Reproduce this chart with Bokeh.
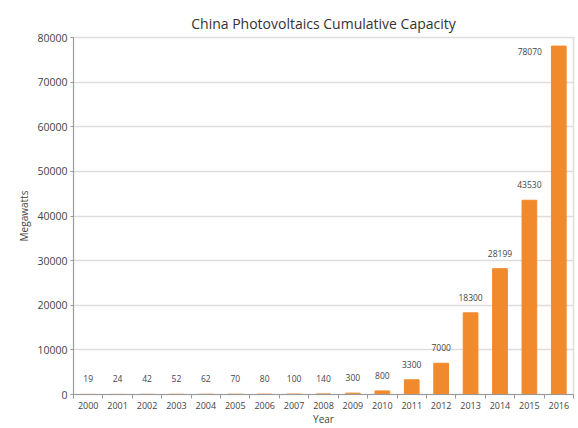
from bokeh.plotting import figure
from bokeh.models import ColumnDataSource, FixedTicker, Range1d, LabelSet
from bokeh.core.properties import value
from bokeh.embed import file_html
from bokeh.resources import INLINE

# Cumulative installed photovoltaic capacity in China (MW)
years = ["2000", "2001", "2002", "2003", "2004", "2005", "2006", "2007", "2008",
         "2009", "2010", "2011", "2012", "2013", "2014", "2015", "2016"]
capacity = [19, 24, 42, 52, 62, 70, 80, 100, 140, 300, 800, 3300, 7000,
            18300, 28199, 43530, 78070]
y_ticks = [0, 10000, 20000, 30000, 40000, 50000, 60000, 70000, 80000]

FONT = "Open Sans"
TEXT = "#444444"
BAR = "#f08a2c"

n = len(years)
centers = [i + 0.5 for i in range(n)]
bounds = list(range(n + 1))

src = ColumnDataSource(dict(x=centers, top=capacity))

p = figure(width=578, height=428, output_backend="svg", toolbar_location=None,
           x_range=Range1d(0, n), y_range=Range1d(0, 80000),
           min_border_left=73, min_border_right=5, min_border_top=37,
           min_border_bottom=28)

p.title.text = "China Photovoltaics Cumulative Capacity"
p.title.align = "center"
p.title.text_font = FONT
p.title.text_font_size = "14px"
p.title.text_font_style = "normal"
p.title.text_color = "#333333"

p.vbar(x="x", top="top", width=0.5, bottom=0, source=src,
       fill_color=BAR, line_color=BAR)

# value labels; the last one sits beside the top of its bar
main = ColumnDataSource(dict(x=centers[:-1], y=capacity[:-1],
                             label=[str(v) for v in capacity[:-1]]))
last = ColumnDataSource(dict(x=centers[-1:], y=capacity[-1:],
                             label=[str(v) for v in capacity[-1:]]))
label_style = dict(text_font=value(FONT), text_font_size=value("8.5px"),
                   text_color=value(TEXT))
p.add_layout(LabelSet(x="x", y="y", text="label", source=main, y_offset=12,
                      text_align="center", text_baseline="bottom", **label_style))
p.add_layout(LabelSet(x="x", y="y", text="label", source=last, x_offset=-29,
                      y_offset=-5, text_align="center", text_baseline="middle",
                      **label_style))

# x axis: labels at category centres, tick marks on category boundaries
p.xaxis.ticker = FixedTicker(ticks=centers, minor_ticks=bounds)
p.xaxis.major_label_overrides = {c: y for c, y in zip(centers, years)}
p.xaxis.major_tick_out = 0
p.xaxis.major_tick_in = 0
p.xaxis.minor_tick_out = 4
p.xaxis.minor_tick_in = 0
p.xaxis.minor_tick_line_color = "#999999"
p.xaxis.axis_label = "Year"
p.xaxis.major_label_standoff = 3
p.xaxis.axis_label_standoff = 0

p.yaxis.ticker = FixedTicker(ticks=y_ticks)
p.yaxis.minor_tick_line_color = None
p.yaxis.major_tick_out = 3
p.yaxis.major_tick_in = 0
p.yaxis.axis_label = "Megawatts"
p.yaxis.major_label_standoff = 3
p.yaxis.axis_label_standoff = 3

for ax in (p.xaxis, p.yaxis):
    ax.axis_line_color = "#999999"
    ax.major_tick_line_color = "#999999"
    ax.major_label_text_font = FONT
    ax.major_label_text_color = TEXT
    ax.axis_label_text_font = FONT
    ax.axis_label_text_font_style = "normal"
    ax.axis_label_text_font_size = "10px"
    ax.axis_label_text_color = TEXT
p.xaxis.major_label_text_font_size = "9px"
p.yaxis.major_label_text_font_size = "10.5px"

p.xgrid.grid_line_color = None
p.ygrid.grid_line_color = "#dddddd"
p.ygrid.grid_line_width = 1.5
p.outline_line_color = "#dddddd"
p.outline_line_width = 1.5
p.background_fill_color = "white"
p.border_fill_color = "white"

open("out.html", "w").write(file_html(p, INLINE))
